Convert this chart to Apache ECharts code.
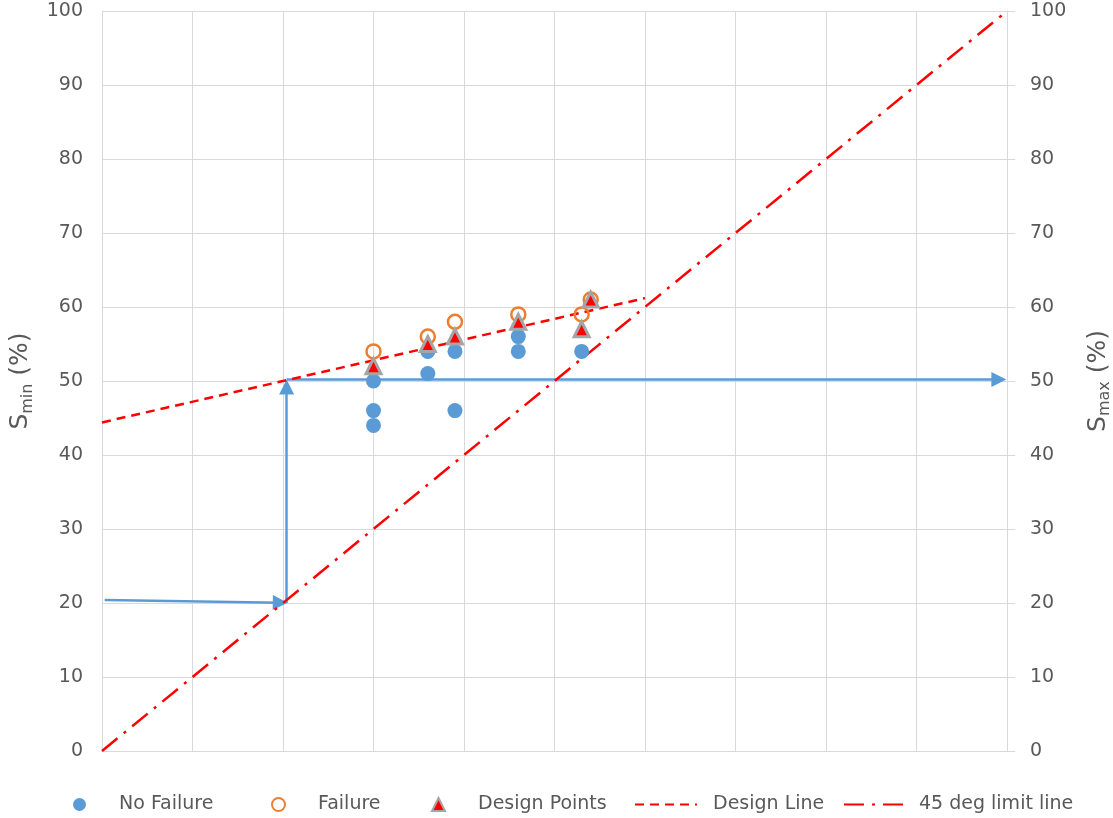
<!DOCTYPE html>
<html>
<head>
<meta charset="utf-8">
<script src="https://cdn.jsdelivr.net/npm/echarts@6/dist/echarts.min.js"></script>
<style>html,body{margin:0;padding:0;background:#fff;overflow:hidden;}#c{width:1113px;height:818px;}</style>
</head>
<body>
<div id="c"></div>
<script>
// ---- data ----
var yTicks = [0,10,20,30,40,50,60,70,80,90,100];
var noFailX = [30,30,30,36,36,39,39,46,46,53];
var noFailY = [50,46,44,54,51,54,46,56,54,54];
var failX = [30,36,39,46,53,54];
var failY = [54,56,58,59,59,61];
var designX = [30,36,39,46,53,54];
var designY = [52,55,56,58,57,61];
var designLineX = [0,60];
var designLineY = [44.4,61.2];
var limitX = [0,100];
var limitY = [0,100];
// arrow end points are the centres of the arrow heads
var arrowInX = [0.3,19.7];  var arrowInY = [20.4,20.05];
var arrowUpX = [20.4,20.4]; var arrowUpY = [20.0,49.2];
var arrowOutX = [20.4,99.1]; var arrowOutY = [50.2,50.2];
var legendNames = ['No Failure','Failure','Design Points','Design Line','45 deg limit line'];

function pairs(xs, ys){ return xs.map(function(x,i){ return [x, ys[i]]; }); }

var FONT = 'DejaVu Sans';
var TXT = '#595959';
var GRID = '#d9d9d9';
var BLUE = '#5B9BD5', ORANGE = '#ED7D31', GRAY = '#A5A5A5', RED = '#FF0000';

function arrowSeries(name, xs, ys){
  return {
    name: name, type: 'lines', coordinateSystem: 'cartesian2d', z: 2,
    symbol: ['none','triangle'], symbolSize: 15, silent: true,
    lineStyle: {color: BLUE, width: 2.5, opacity: 1},
    itemStyle: {color: BLUE},
    data: [{coords: pairs(xs, ys)}]
  };
}

function axisName(sub){
  return '{s|S}{sub|' + sub + '}{s| (%)}';
}
var nameStyle = {
  color: TXT, fontFamily: FONT,
  rich: {
    s: {fontSize: 25, lineHeight: 30, color: TXT, fontFamily: FONT},
    sub: {fontSize: 16, lineHeight: 16, verticalAlign: 'bottom', color: TXT, fontFamily: FONT}
  }
};

var legTxt = function(pad){ return {color: TXT, fontSize: 19, fontFamily: FONT, padding: [0,0,0,pad]}; };
var hidden = {color: 'rgba(0,0,0,0)', borderWidth: 0, opacity: 0};
function symLegend(i, left, icon){
  return {left: left, bottom: 4, padding: 0, itemWidth: 13, itemHeight: 13,
    textStyle: legTxt(28), data: [{name: legendNames[i], icon: icon}]};
}
function lineLegend(i, left, w, pad){
  return {left: left, bottom: 4, padding: 0, itemWidth: w, itemHeight: 13,
    textStyle: legTxt(pad), data: [{name: legendNames[i], itemStyle: hidden}]};
}

var chart = echarts.init(document.getElementById('c'), null, {renderer: 'canvas'});
chart.setOption({
  animation: false,
  backgroundColor: '#fff',
  grid: {left: 102, right: 106, top: 11, bottom: 67, containLabel: false, outerBoundsMode: 'none'},
  legend: [
    symLegend(0, 73, 'circle'),
    symLegend(1, 271, 'circle'),
    symLegend(2, 431, 'triangle'),
    lineLegend(3, 634, 62, 11),
    lineLegend(4, 843, 60, 10)
  ],
  xAxis: {
    type: 'value', min: 0, max: 100, interval: 10,
    axisLabel: {show: false}, axisTick: {show: false},
    axisLine: {show: true, lineStyle: {color: GRID, width: 1}},
    splitLine: {show: true, lineStyle: {color: GRID, width: 1}}
  },
  yAxis: [{
    type: 'value', min: 0, max: 100, interval: 10, position: 'left',
    axisLabel: {color: TXT, fontSize: 19, fontFamily: FONT, margin: 19,
      formatter: function(v){ return yTicks.indexOf(v) >= 0 ? String(v) : ''; }},
    axisTick: {show: false},
    axisLine: {show: true, lineStyle: {color: GRID, width: 1}},
    splitLine: {show: true, lineStyle: {color: GRID, width: 1}},
    name: axisName('min'), nameLocation: 'middle', nameRotate: 90, nameGap: 66,
    nameTextStyle: nameStyle
  },{
    type: 'value', min: 0, max: 100, interval: 10, position: 'right',
    axisLabel: {color: TXT, fontSize: 19, fontFamily: FONT, margin: 23,
      formatter: function(v){ return yTicks.indexOf(v) >= 0 ? String(v) : ''; }},
    axisTick: {show: true, inside: false, length: 8, lineStyle: {color: GRID}},
    axisLine: {show: true, lineStyle: {color: GRID, width: 1}},
    splitLine: {show: false},
    name: axisName('max'), nameLocation: 'middle', nameRotate: 90, nameGap: 76,
    nameTextStyle: nameStyle
  }],
  series: [
    arrowSeries('arrowIn', arrowInX, arrowInY),
    arrowSeries('arrowUp', arrowUpX, arrowUpY),
    arrowSeries('arrowOut', arrowOutX, arrowOutY),
    {
      name: '45 deg limit line', type: 'line', z: 3, symbol: 'none', showSymbol: false,
      lineStyle: {color: RED, width: 2.5, type: [20,8,3,8]},
      itemStyle: {color: RED},
      data: pairs(limitX, limitY)
    },
    {
      name: 'Design Line', type: 'line', z: 3, symbol: 'none', showSymbol: false,
      lineStyle: {color: RED, width: 2.5, type: [9,6]},
      itemStyle: {color: RED},
      data: pairs(designLineX, designLineY)
    },
    {
      name: 'No Failure', type: 'scatter', z: 4, symbol: 'circle', symbolSize: 15,
      itemStyle: {color: BLUE, opacity: 1},
      data: pairs(noFailX, noFailY)
    },
    {
      name: 'Failure', type: 'scatter', z: 5, symbol: 'circle', symbolSize: 14,
      itemStyle: {color: 'rgba(255,255,255,0)', borderColor: ORANGE, borderWidth: 2.5, opacity: 1},
      data: pairs(failX, failY)
    },
    {
      name: 'Design Points', type: 'scatter', z: 6, symbol: 'triangle', symbolSize: 15,
      itemStyle: {color: RED, borderColor: GRAY, borderWidth: 3, opacity: 1},
      data: pairs(designX, designY)
    }
  ]
});
</script>
</body>
</html>
